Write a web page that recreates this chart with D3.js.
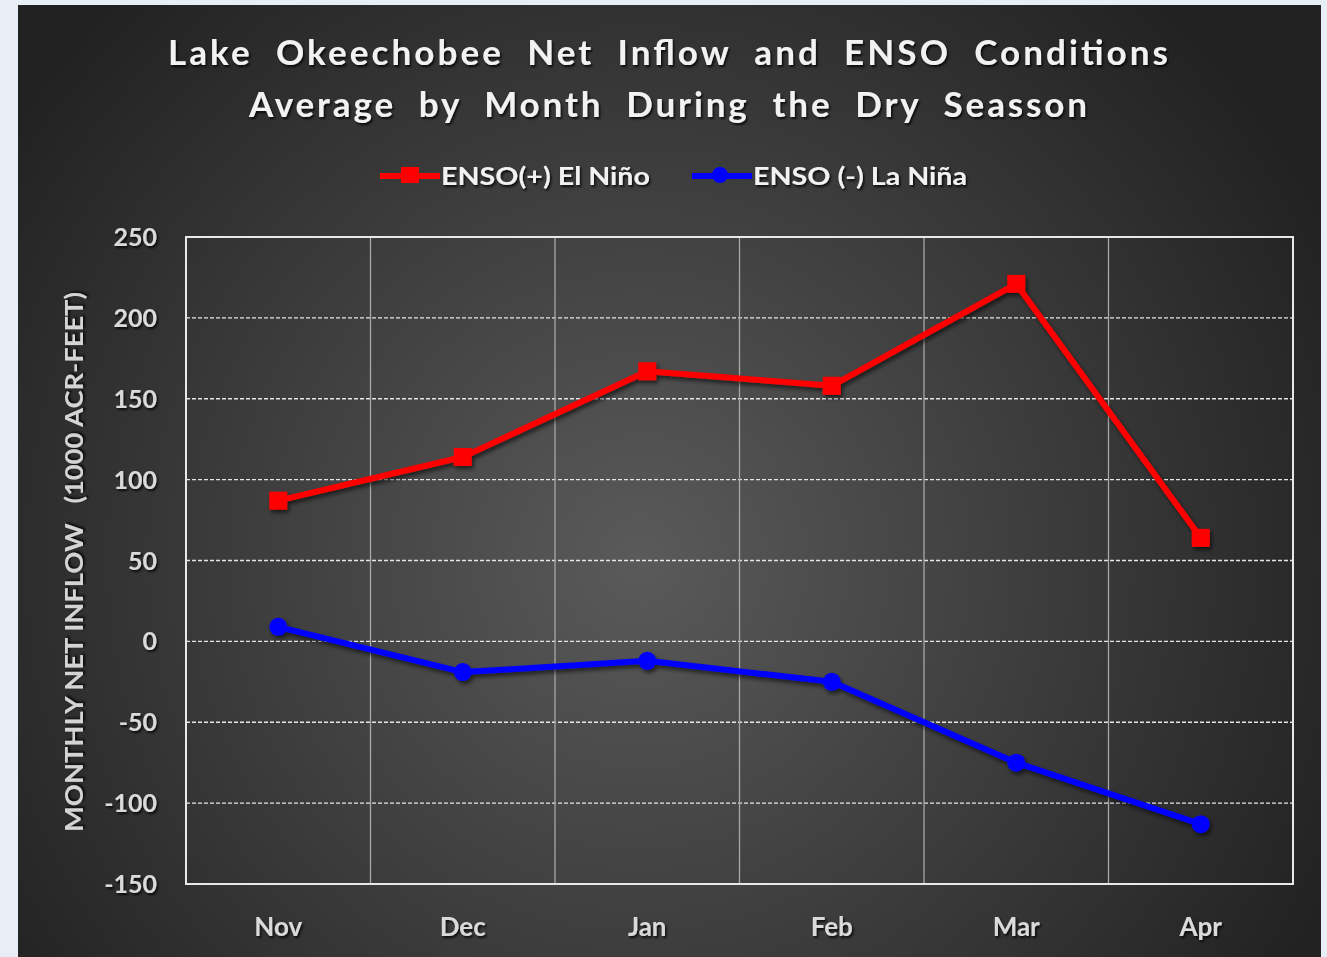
<!DOCTYPE html>
<html lang="en">
<head>
    <meta charset="UTF-8">
    <title>Lake Okeechobee Net Inflow and ENSO</title>
    <script src="https://cdn.jsdelivr.net/npm/d3@7"></script>
    <style>
        body { margin: 0; background: #e7eef6; }
        svg { display: block; }
        text { font-family: Lato, "Open Sans", sans-serif; font-weight: bold; white-space: pre; }
    </style>
</head>
<body>
<script type="text/javascript">

    // data
    var months = ["Nov", "Dec", "Jan", "Feb", "Mar", "Apr"];
    var elNino = [87, 114, 167, 158, 221, 64];
    var laNina = [9, -19, -12, -25, -75, -113];
    var yTicks = [-150, -100, -50, 0, 50, 100, 150, 200, 250];

    var W = 1327, H = 957;
    var plot = {left: 186, right: 1293, top: 237, bottom: 884};

    var svg = d3.select("body").append("svg")
        .attr("width", W)
        .attr("height", H);

    var defs = svg.append("defs");

    var grad = defs.append("radialGradient")
        .attr("id", "bg")
        .attr("gradientUnits", "userSpaceOnUse")
        .attr("cx", 640).attr("cy", 560).attr("r", 760);
    grad.append("stop").attr("offset", "0%").attr("stop-color", "#5a5a5a");
    grad.append("stop").attr("offset", "100%").attr("stop-color", "#222222");

    var shadow = defs.append("filter").attr("id", "shadow")
        .attr("x", "-20%").attr("y", "-20%").attr("width", "140%").attr("height", "140%");
    shadow.append("feDropShadow")
        .attr("dx", 2).attr("dy", 3).attr("stdDeviation", 2)
        .attr("flood-color", "#000").attr("flood-opacity", 0.6);

    var tshadow = defs.append("filter").attr("id", "tshadow")
        .attr("x", "-10%").attr("y", "-30%").attr("width", "120%").attr("height", "160%");
    tshadow.append("feDropShadow")
        .attr("dx", 1.5).attr("dy", 2).attr("stdDeviation", 1)
        .attr("flood-color", "#000").attr("flood-opacity", 0.8);

    // panel
    svg.append("rect")
        .attr("x", 18).attr("y", 5)
        .attr("width", 1303).attr("height", 952)
        .attr("fill", "url(#bg)");

    var x = d3.scaleBand()
        .domain(months)
        .range([plot.left, plot.right]);

    var y = d3.scaleLinear()
        .domain([-150, 250])
        .range([plot.bottom, plot.top]);

    // horizontal grid (dashed)
    svg.append("g")
        .selectAll("line")
        .data(yTicks.filter(function(d) { return d > -150 && d < 250; }))
        .enter().append("line")
        .attr("x1", plot.left).attr("x2", plot.right)
        .attr("y1", function(d) { return y(d); })
        .attr("y2", function(d) { return y(d); })
        .attr("stroke", "#e6e6e6")
        .attr("stroke-width", 1.3)
        .attr("stroke-dasharray", "4,2");

    // vertical grid (solid)
    svg.append("g")
        .selectAll("line")
        .data(months.slice(1))
        .enter().append("line")
        .attr("x1", function(d) { return x(d); })
        .attr("x2", function(d) { return x(d); })
        .attr("y1", plot.top).attr("y2", plot.bottom)
        .attr("stroke", "#a8a8a8")
        .attr("stroke-width", 1.3);

    // frame
    svg.append("rect")
        .attr("x", plot.left).attr("y", plot.top)
        .attr("width", plot.right - plot.left)
        .attr("height", plot.bottom - plot.top)
        .attr("fill", "none")
        .attr("stroke", "#e8e8e8")
        .attr("stroke-width", 2);

    // y tick labels
    svg.append("g")
        .selectAll("text")
        .data(yTicks)
        .enter().append("text")
        .attr("x", 157)
        .attr("y", function(d) { return y(d); })
        .attr("dy", "0.36em")
        .attr("text-anchor", "end")
        .attr("font-size", 25)
        .attr("fill", "#dadada")
        .attr("filter", "url(#tshadow)")
        .text(function(d) { return d; });

    // x tick labels
    svg.append("g")
        .selectAll("text")
        .data(months)
        .enter().append("text")
        .attr("x", function(d) { return x(d) + x.bandwidth() / 2; })
        .attr("y", 936)
        .attr("text-anchor", "middle")
        .attr("font-size", 26)
        .attr("fill", "#dadada")
        .attr("filter", "url(#tshadow)")
        .text(function(d) { return d; });

    // y axis title
    svg.append("text")
        .attr("transform", "translate(83,562) rotate(-90)")
        .attr("text-anchor", "middle")
        .attr("font-size", 24)
        .attr("fill", "#d4d4d4")
        .attr("textLength", 540)
        .attr("lengthAdjust", "spacingAndGlyphs")
        .attr("filter", "url(#tshadow)")
        .text("MONTHLY NET INFLOW   (1000 ACR-FEET)");

    // title
    var titles = [
        {t: "Lake  Okeechobee  Net  Inflow  and  ENSO  Conditions", y: 65, len: 1000},
        {t: "Average  by  Month  During  the  Dry  Seasson", y: 117, len: 838}
    ];
    svg.append("g")
        .selectAll("text")
        .data(titles)
        .enter().append("text")
        .attr("x", 668)
        .attr("y", function(d) { return d.y; })
        .attr("text-anchor", "middle")
        .attr("font-size", 35)
        .attr("fill", "#f2f2f2")
        .attr("textLength", function(d) { return d.len; })
        .attr("lengthAdjust", "spacing")
        .attr("filter", "url(#tshadow)")
        .text(function(d) { return d.t; });

    var line = d3.line()
        .x(function(d, i) { return x(months[i]) + x.bandwidth() / 2; })
        .y(function(d) { return y(d); });

    var series = [
        {name: "ENSO(+) El Niño", values: elNino, color: "#ff0000", shape: "square"},
        {name: "ENSO (-) La Niña", values: laNina, color: "#0000ff", shape: "circle"}
    ];

    series.forEach(function(s) {
        var g = svg.append("g").attr("filter", "url(#shadow)");
        g.append("path")
            .datum(s.values)
            .attr("d", line)
            .attr("fill", "none")
            .attr("stroke", s.color)
            .attr("stroke-width", 6)
            .attr("stroke-linejoin", "round");
        if (s.shape === "square") {
            g.selectAll("rect")
                .data(s.values)
                .enter().append("rect")
                .attr("x", function(d, i) { return x(months[i]) + x.bandwidth() / 2 - 9; })
                .attr("y", function(d) { return y(d) - 9; })
                .attr("width", 18).attr("height", 18)
                .attr("fill", s.color);
        } else {
            g.selectAll("circle")
                .data(s.values)
                .enter().append("circle")
                .attr("cx", function(d, i) { return x(months[i]) + x.bandwidth() / 2; })
                .attr("cy", function(d) { return y(d); })
                .attr("r", 9)
                .attr("fill", s.color);
        }
    });

    // legend
    var legend = [
        {s: series[0], x: 380, len: 209},
        {s: series[1], x: 692, len: 214}
    ];
    legend.forEach(function(l) {
        var g = svg.append("g");
        g.append("line")
            .attr("x1", l.x).attr("x2", l.x + 60)
            .attr("y1", 176).attr("y2", 176)
            .attr("stroke", l.s.color)
            .attr("stroke-width", 6);
        if (l.s.shape === "square") {
            g.append("rect")
                .attr("x", l.x + 21).attr("y", 167)
                .attr("width", 18).attr("height", 16)
                .attr("fill", l.s.color);
        } else {
            g.append("circle")
                .attr("cx", l.x + 28).attr("cy", 175)
                .attr("r", 8)
                .attr("fill", l.s.color);
        }
        g.append("text")
            .attr("x", l.x + 61)
            .attr("y", 185)
            .attr("font-size", 25)
            .attr("fill", "#f2f2f2")
            .attr("textLength", l.len)
            .attr("lengthAdjust", "spacingAndGlyphs")
            .attr("filter", "url(#tshadow)")
            .text(l.s.name);
    });

</script>
</body>
</html>
